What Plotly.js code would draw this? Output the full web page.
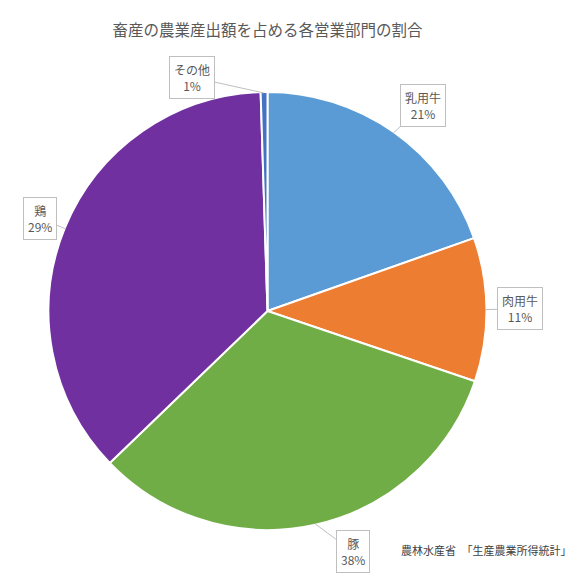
<!DOCTYPE html>
<html>
<head>
<meta charset="utf-8">
<script src="https://cdn.plot.ly/plotly-3.0.1.min.js"></script>
<style>html,body{margin:0;padding:0;background:#fff;}#chart{width:584px;height:579px;}</style>
</head>
<body>
<div id="chart"></div>
<script>
// ---- data ----
const categories = ['乳用牛', '肉用牛', '豚', '鶏', 'その他'];
const sliceShares = [19.6, 10.6, 32.6, 36.7, 0.5];      // slice sizes as drawn
const labelPercents = ['21%', '11%', '38%', '29%', '1%']; // printed labels
const titleText = '畜産の農業産出額を占める各営業部門の割合';
const sourceText = '農林水産省　「生産農業所得統計」';

// ---- styles / layout ----
const colors = ['#5B9BD5', '#ED7D31', '#70AD47', '#7030A0', '#4472C4'];
const W = 584, H = 579;
const CX = 267.5, CY = 311, R = 219;
const boxCenters = [[423, 105], [520, 308.5], [352.5, 551.5], [39.5, 218], [191.5, 77]];
const FONT = '"Noto Sans CJK JP", "Noto Sans", sans-serif';

const total = sliceShares.reduce((a, b) => a + b, 0);
let cum = 0;
const annotations = [];
sliceShares.forEach((v, i) => {
  const mid = (cum + v / 2) / total * 2 * Math.PI;
  cum += v;
  const tx = CX + (R - 1) * Math.sin(mid);
  const ty = CY - (R - 1) * Math.cos(mid);
  annotations.push({
    xref: 'paper', yref: 'paper',
    x: tx / W, y: 1 - ty / H,
    ax: boxCenters[i][0] - tx, ay: boxCenters[i][1] - ty,
    text: categories[i] + '<br>' + labelPercents[i],
    showarrow: true, arrowhead: 0, arrowwidth: 1, arrowcolor: '#BFBFBF',
    bordercolor: '#BFBFBF', borderwidth: 1, borderpad: 4, bgcolor: '#FFFFFF',
    font: {family: FONT, size: 12, color: '#595959'},
    align: 'center'
  });
});
annotations.push({
  xref: 'paper', yref: 'paper', x: 399 / W, y: 1 - 550 / H,
  xanchor: 'left', yanchor: 'middle', showarrow: false,
  text: sourceText,
  font: {family: FONT, size: 11, color: '#404040'}
});

const trace = {
  type: 'pie',
  labels: categories,
  values: sliceShares,
  sort: false,
  direction: 'clockwise',
  rotation: 0,
  textinfo: 'none',
  hoverinfo: 'skip',
  marker: {colors: colors, line: {color: '#FFFFFF', width: 2}},
  domain: {x: [(CX - R) / W, (CX + R) / W], y: [1 - (CY + R) / H, 1 - (CY - R) / H]}
};

const layout = {
  width: W, height: H,
  margin: {l: 0, r: 0, t: 0, b: 0},
  paper_bgcolor: '#FFFFFF',
  showlegend: false,
  title: {
    text: titleText,
    x: 267.5 / W, xanchor: 'center', xref: 'paper',
    y: 1 - 31 / H, yanchor: 'middle', yref: 'paper',
    font: {family: FONT, size: 15.5, color: '#595959'}
  },
  annotations: annotations
};

Plotly.newPlot('chart', [trace], layout, {displayModeBar: false, staticPlot: true});
</script>
</body>
</html>
